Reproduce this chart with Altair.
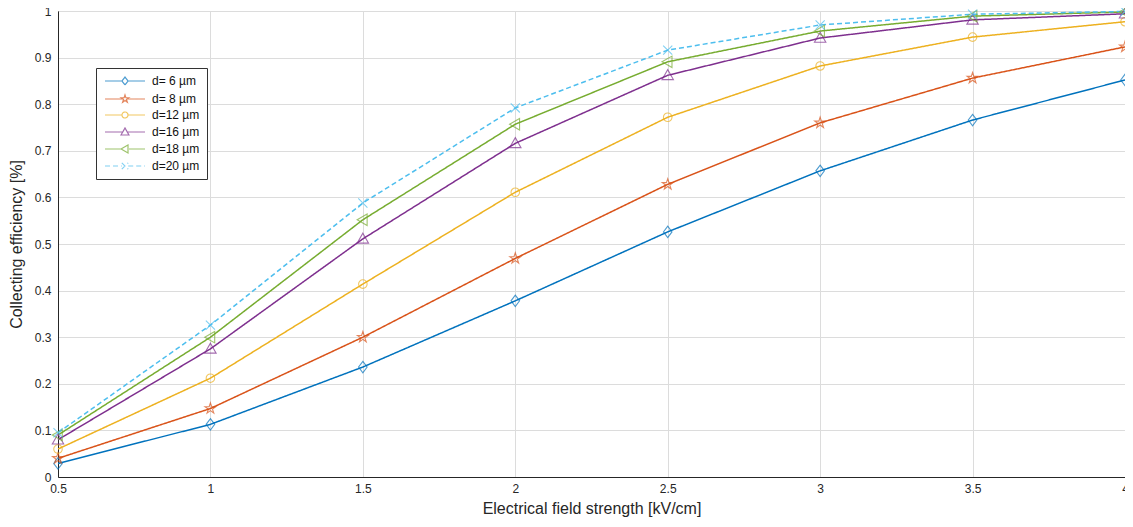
import altair as alt
import pandas as pd

field = [0.5, 1.0, 1.5, 2.0, 2.5, 3.0, 3.5, 4.0]
series_names = ["d= 6 µm", "d= 8 µm", "d=12 µm", "d=16 µm", "d=18 µm", "d=20 µm"]
d6 = [0.029, 0.113, 0.236, 0.378, 0.526, 0.657, 0.766, 0.852]
d8 = [0.040, 0.147, 0.300, 0.469, 0.628, 0.760, 0.856, 0.923]
d12 = [0.060, 0.212, 0.414, 0.611, 0.772, 0.882, 0.944, 0.977]
d16 = [0.080, 0.275, 0.511, 0.716, 0.862, 0.942, 0.981, 0.994]
d18 = [0.090, 0.300, 0.552, 0.757, 0.891, 0.957, 0.989, 0.998]
d20 = [0.095, 0.326, 0.588, 0.792, 0.916, 0.970, 0.993, 0.999]
colors = ["#0072BD", "#D95319", "#EDB120", "#7E2F8E", "#77AC30", "#4DBEEE"]

diamond = "M0,-1L0.75,0L0,1L-0.75,0Z"
star = "M0,-1L0.225,-0.309L0.951,-0.309L0.363,0.118L0.588,0.809L0,0.382L-0.588,0.809L-0.363,0.118L-0.951,-0.309L-0.225,-0.309Z"
circle = "M0.75,0A0.75,0.75,0,1,1,-0.75,0A0.75,0.75,0,1,1,0.75,0Z"
tri_up = "M0,-1L1,0.75L-1,0.75Z"
tri_left = "M-1,0L0.75,-1L0.75,1Z"
xmark = "M-0.8,-0.8L0.8,0.8M-0.8,0.8L0.8,-0.8"
shapes = [diamond, star, circle, tri_up, tri_left, xmark]
gaps = [0.75, 0.6, 0.75, 0.6, 1.0, 0.8]
legend_shapes = [f"M-5,0L-{g},0M{g},0L5,0" + s for s, g in zip(shapes, gaps)]
dashes = [[1, 0], [1, 0], [1, 0], [1, 0], [1, 0], [5, 3]]

rows = []
for name, vals in zip(series_names, [d6, d8, d12, d16, d18, d20]):
    for x, y in zip(field, vals):
        rows.append({"E": x, "eff": y, "series": name})
df = pd.DataFrame(rows)

font = "Liberation Sans"
tc = "#262626"

xenc = alt.X("E:Q", scale=alt.Scale(domain=[0.5, 4], nice=False),
             axis=alt.Axis(values=field, format="~g", title="Electrical field strength [kV/cm]",
                           grid=True, ticks=False, labelPadding=6, titlePadding=6,
                           labelFlush=False, labelFont=font, labelFontSize=12, labelColor=tc,
                           titleFont=font, titleFontSize=16, titleFontWeight="normal",
                           titleColor=tc, gridColor="#dcdcdc", domainColor=tc))
yenc = alt.Y("eff:Q", scale=alt.Scale(domain=[0, 1], nice=False),
             axis=alt.Axis(values=[i / 10 for i in range(11)], format="~g",
                           title="Collecting efficiency [%]", grid=True, ticks=False,
                           labelPadding=7, titlePadding=10, labelFlush=False,
                           labelFont=font, labelFontSize=12, labelColor=tc,
                           titleFont=font, titleFontSize=16, titleFontWeight="normal",
                           titleColor=tc, gridColor="#dcdcdc", domainColor=tc))

color = alt.Color("series:N", scale=alt.Scale(domain=series_names, range=colors),
                  legend=alt.Legend(title=None, orient="none", legendX=38, legendY=57,
                                    padding=7, labelFont=font, labelFontSize=12,
                                    labelColor="#111111", rowPadding=4,
                                    symbolSize=64, symbolOffset=16, labelOffset=21,
                                    symbolStrokeWidth=1.2, symbolFillColor="transparent",
                                    strokeColor="#333333", fillColor="white"))
dash = alt.StrokeDash("series:N", scale=alt.Scale(domain=series_names, range=dashes))
leg_shape = alt.Shape("series:N", scale=alt.Scale(domain=series_names, range=legend_shapes))

lines = alt.Chart(df).mark_line(strokeWidth=1.5).encode(x=xenc, y=yenc, color=color, strokeDash=dash)
legend_layer = alt.Chart(df).transform_filter("false").mark_point(
    filled=False, strokeWidth=1.2).encode(
    x=xenc, y=yenc, color=color, strokeDash=dash, shape=leg_shape)

point_layers = []
for name, shp in zip(series_names, shapes):
    point_layers.append(
        alt.Chart(df).transform_filter(alt.datum.series == name)
        .mark_point(filled=False, size=130, strokeWidth=1.1, shape=shp)
        .encode(x=xenc, y=yenc, color=color)
    )

chart = alt.layer(lines, *point_layers, legend_layer).properties(
    width=1067, height=466,
    autosize=alt.AutoSizeParams(type="none"),
    padding={"left": 50, "top": 3, "right": 0, "bottom": 50},
    background="white",
).configure_view(stroke=tc, strokeWidth=1)

chart.save("out.html", embed_options={"renderer": "svg", "actions": False})
